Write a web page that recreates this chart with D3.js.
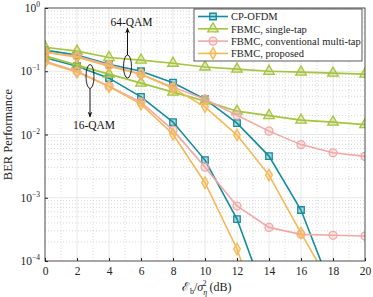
<!DOCTYPE html>
<html>
<head>
<meta charset="utf-8">
<script src="https://cdn.jsdelivr.net/npm/d3@7"></script>
<style>
  body { margin: 0; background: #fff; }
  text { font-family: "Liberation Serif", "DejaVu Serif", serif; }
</style>
</head>
<body>
<div id="chart"></div>
<script>
const snr = [0, 2, 4, 6, 8, 10, 12, 14, 16, 18, 20];

// BER values (64-QAM upper group, 16-QAM lower group)
const ofdm64   = [0.216, 0.180, 0.129, 0.100, 0.066, 0.0362, 0.0151, 0.00456, 6.4e-4, 3.2e-5];
const ofdm16   = [0.164, 0.120, 0.0778, 0.0394, 0.0157, 0.00394, 4.6e-4, 1.9e-5];
const single64 = [0.240, 0.208, 0.165, 0.150, 0.134, 0.117, 0.108, 0.100, 0.0968, 0.0933, 0.090];
const single16 = [0.176, 0.125, 0.090, 0.0649, 0.0468, 0.0337, 0.0234, 0.0199, 0.0169, 0.0157, 0.0143];
const conv64   = [0.200, 0.173, 0.125, 0.090, 0.0561, 0.0362, 0.0202, 0.0113, 0.00692, 0.00514, 0.00451];
const conv16   = [0.144, 0.100, 0.0582, 0.0325, 0.0117, 0.00305, 7.4e-4, 3.4e-4, 2.64e-4, 2.55e-4, 2.48e-4];
const prop64   = [0.200, 0.167, 0.120, 0.090, 0.054, 0.0274, 0.0098, 0.00228, 2.77e-4, 3.6e-5];
const prop16   = [0.139, 0.0968, 0.0571, 0.0302, 0.0101, 0.00173, 1.55e-4, 5.5e-6];

const legendNames = ['CP-OFDM', 'FBMC, single-tap', 'FBMC, conventional multi-tap', 'FBMC, proposed'];
const xTicks = [0, 2, 4, 6, 8, 10, 12, 14, 16, 18, 20];
const yTicks = [1, 0.1, 0.01, 0.001, 0.0001];

const styles = [
  {color: '#138c9c', marker: 'square'},
  {color: '#a5c440', marker: 'triangle'},
  {color: '#f0a9a6', marker: 'circle'},
  {color: '#f5b856', marker: 'diamond'}
];

const series = [
  {s: 0, v: ofdm64}, {s: 0, v: ofdm16},
  {s: 1, v: single64}, {s: 1, v: single16},
  {s: 2, v: conv64}, {s: 2, v: conv16},
  {s: 3, v: prop64}, {s: 3, v: prop16}
];

const width = 373, height = 297;
const margin = {top: 8, right: 8, bottom: 36, left: 45};
const w = width - margin.left - margin.right;
const h = height - margin.top - margin.bottom;

const svg = d3.select('#chart').append('svg')
  .attr('width', width).attr('height', height);

const x = d3.scaleLinear().domain([0, 20]).range([0, w]);
const y = d3.scaleLog().domain([1e-4, 1]).range([h, 0]);

const g = svg.append('g').attr('transform', `translate(${margin.left},${margin.top})`);

svg.append('defs').append('clipPath').attr('id', 'clip')
  .append('rect').attr('width', w).attr('height', h);

// grid
const minorY = [];
for (let e = -4; e < 0; e++) for (let k = 2; k <= 9; k++) minorY.push(k * Math.pow(10, e));
g.append('g').selectAll('line').data(minorY).enter().append('line')
  .attr('x1', 0).attr('x2', w).attr('y1', d => y(d)).attr('y2', d => y(d))
  .attr('stroke', '#c8c8c8').attr('stroke-width', 0.7).attr('stroke-dasharray', '1,2');
g.append('g').selectAll('line').data(d3.range(1, 20, 2)).enter().append('line')
  .attr('y1', 0).attr('y2', h).attr('x1', d => x(d)).attr('x2', d => x(d))
  .attr('stroke', '#d0d0d0').attr('stroke-width', 0.7).attr('stroke-dasharray', '1,2');
g.append('g').selectAll('line').data(xTicks.slice(1, -1)).enter().append('line')
  .attr('y1', 0).attr('y2', h).attr('x1', d => x(d)).attr('x2', d => x(d))
  .attr('stroke', '#e2e2e2').attr('stroke-width', 0.8);
g.append('g').selectAll('line').data(yTicks.slice(1, -1)).enter().append('line')
  .attr('x1', 0).attr('x2', w).attr('y1', d => y(d)).attr('y2', d => y(d))
  .attr('stroke', '#e2e2e2').attr('stroke-width', 0.8);

// marker shapes
const symbolFor = {
  square: d3.symbol(d3.symbolSquare, 42),
  triangle: d3.symbol(d3.symbolTriangle, 48),
  circle: d3.symbol(d3.symbolCircle, 50),
  diamond: d3.symbol(d3.symbolDiamond, 38)
};

function drawMarker(sel, st) {
  sel.attr('d', symbolFor[st.marker]())
    .attr('fill', st.color).attr('fill-opacity', 0.3)
    .attr('stroke', st.color).attr('stroke-width', 1.3);
}

const plot = g.append('g').attr('clip-path', 'url(#clip)');
const line = d3.line().x((d, i) => x(snr[i])).y(d => y(d));

series.forEach(sr => {
  const st = styles[sr.s];
  const grp = plot.append('g');
  grp.append('path').datum(sr.v).attr('d', line)
    .attr('fill', 'none').attr('stroke', st.color).attr('stroke-width', 1.6);
  grp.selectAll('path.m').data(sr.v).enter().append('path').attr('class', 'm')
    .attr('transform', (d, i) => `translate(${x(snr[i])},${y(d)})`)
    .call(drawMarker, st);
});

// axes box and ticks
g.append('rect').attr('width', w).attr('height', h)
  .attr('fill', 'none').attr('stroke', '#222').attr('stroke-width', 0.8);

g.append('g').attr('transform', `translate(0,${h})`)
  .call(d3.axisBottom(x).tickValues(xTicks).tickSize(-3).tickPadding(6))
  .call(a => a.select('.domain').remove())
  .call(a => a.selectAll('line').attr('stroke', '#222'))
  .call(a => a.selectAll('text').attr('font-size', 11.5).attr('fill', '#222')
    .attr('font-family', '"Liberation Serif", serif'));

g.append('g')
  .call(d3.axisLeft(y).tickValues(yTicks).tickSize(-3).tickFormat(''))
  .call(a => a.select('.domain').remove())
  .call(a => a.selectAll('line').attr('stroke', '#222'));

yTicks.forEach(t => {
  const e = Math.round(Math.log10(t));
  const tx = g.append('text').attr('x', -5).attr('y', y(t) + 4)
    .attr('text-anchor', 'end').attr('font-size', 11.5).attr('fill', '#222');
  tx.append('tspan').text('10');
  tx.append('tspan').attr('dy', -5).attr('font-size', 7.5)
    .text(e === 0 ? '0' : '\u2212' + (-e));
});

// axis titles
svg.append('text')
  .attr('transform', `translate(12,${margin.top + h / 2}) rotate(-90)`)
  .attr('text-anchor', 'middle').attr('font-size', 12.5).attr('fill', '#222')
  .text('BER Performance');

const xl = svg.append('text').attr('x', margin.left + w / 2 + 2).attr('y', 291)
  .attr('text-anchor', 'middle').attr('font-size', 12).attr('fill', '#222');
xl.append('tspan').text('\u2130');
xl.append('tspan').attr('font-size', 8).attr('dx', 0.5).attr('dy', 2.5).text('b');
xl.append('tspan').attr('dy', -2.5).text('/');
xl.append('tspan').attr('font-style', 'italic').text('\u03c3');
xl.append('tspan').attr('font-size', 8).attr('font-style', 'italic').attr('dy', 3.5).text('\u03b7');
xl.append('tspan').attr('font-size', 8).attr('dx', -4.5).attr('dy', -9).text('2');
xl.append('tspan').attr('dy', 5.5).text('\u00a0(dB)');

// annotations
svg.append('defs').append('marker').attr('id', 'arrow')
  .attr('viewBox', '0 0 10 10').attr('refX', 9).attr('refY', 5)
  .attr('markerWidth', 6).attr('markerHeight', 8).attr('orient', 'auto')
  .append('path').attr('d', 'M0,1 L10,5 L0,9 L3,5 Z').attr('fill', '#111');

function annotate(cx, cy, ry, y2, label, ly) {
  svg.append('ellipse').attr('cx', cx).attr('cy', cy).attr('rx', 4).attr('ry', ry)
    .attr('fill', 'none').attr('stroke', '#111').attr('stroke-width', 0.9);
  const y1 = y2 < cy ? cy - ry : cy + ry;
  svg.append('line').attr('x1', cx).attr('x2', cx).attr('y1', y1).attr('y2', y2)
    .attr('stroke', '#111').attr('stroke-width', 1).attr('marker-end', 'url(#arrow)');
  svg.append('text').attr('x', cx + 4).attr('y', ly).attr('text-anchor', 'middle')
    .attr('font-size', 11.5).attr('fill', '#111').text(label);
}
annotate(127.5, 66.5, 11.5, 28, '64-QAM', 26);
annotate(90, 76.5, 12, 117, '16-QAM', 129);

// legend
const lg = svg.append('g').attr('transform', 'translate(194,9)');
lg.append('rect').attr('width', 168).attr('height', 52)
  .attr('fill', '#fff').attr('stroke', '#333').attr('stroke-width', 0.8);
legendNames.forEach((name, i) => {
  const st = styles[i];
  const row = lg.append('g').attr('transform', `translate(0,${7.5 + i * 12.3})`);
  row.append('line').attr('x1', 4).attr('x2', 34)
    .attr('stroke', st.color).attr('stroke-width', 1.6);
  row.append('path').attr('transform', 'translate(19,0)').call(drawMarker, st);
  row.append('text').attr('x', 37).attr('y', 3.8).attr('font-size', 10.5)
    .attr('fill', '#222').text(name);
});
</script>
</body>
</html>
